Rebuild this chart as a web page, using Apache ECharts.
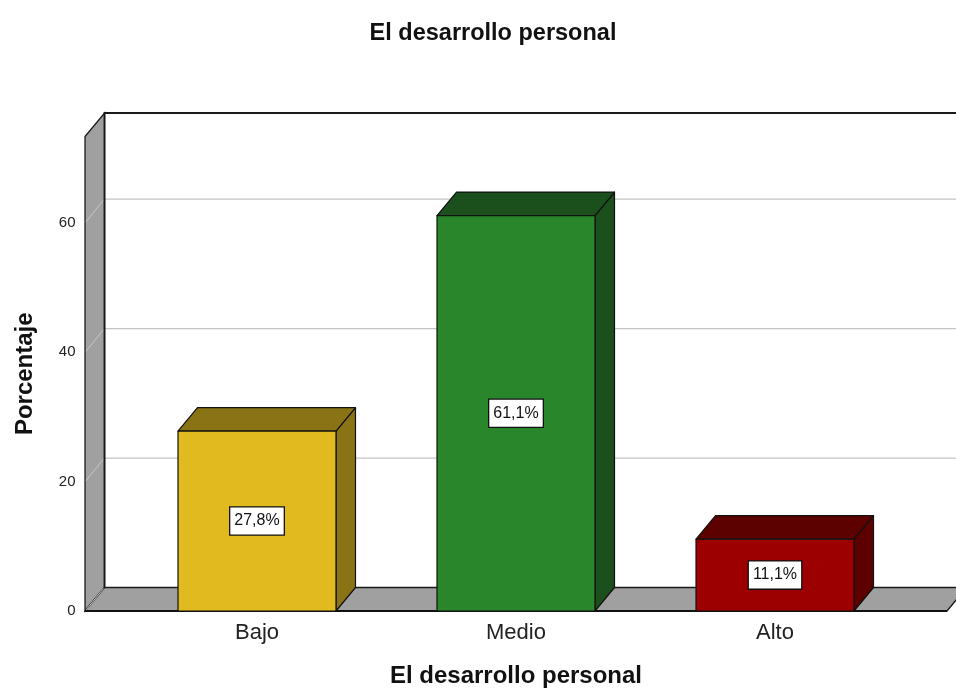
<!DOCTYPE html>
<html><head><meta charset="utf-8">
<script src="https://cdn.jsdelivr.net/npm/echarts@6/dist/echarts.min.js"></script>
<style>html,body{margin:0;padding:0;background:#fff;overflow:hidden}#c{width:956px;height:693px}</style>
</head><body><div id="c"></div>
<script>
var categories = ['Bajo', 'Medio', 'Alto'];
var percentages = [27.8, 61.1, 11.1];
var yTicks = [0, 20, 40, 60];
var frontColors = ['#E0BA1F', '#2A862B', '#9C0000'];
var darkColors = ['#8A7315', '#1B4F1B', '#5C0000'];

var DX = 19.5, DY = -23.5;
var chart = echarts.init(document.getElementById('c'), null, {width: 956, height: 693});
var FONT = 'Liberation Sans, Arial, sans-serif';

function wallRender(params, api) {
  var cs = params.coordSys;
  var band = api.size([1, 0])[0];
  var ext = band * 0.164;
  var L = cs.x - ext, R = cs.x + cs.width + ext;
  var B = api.coord([0, 0])[1];
  var T = cs.y;
  var ch = [];
  ch.push({type: 'polygon', shape: {points: [[L + DX, T + DY], [R + DX, T + DY], [R + DX, B + DY], [L + DX, B + DY]]},
    style: {fill: '#fff', stroke: null}});
  yTicks.forEach(function (v) {
    var y = api.coord([0, v])[1];
    if (v > 0) ch.push({type: 'line', shape: {x1: L + DX, y1: y + DY, x2: R + DX, y2: y + DY},
      style: {stroke: '#c4c4c4', lineWidth: 1.2}});
  });
  ch.push({type: 'polygon', shape: {points: [[L, T], [L + DX, T + DY], [L + DX, B + DY], [L, B]]},
    style: {fill: '#a0a0a0', stroke: '#1a1a1a', lineWidth: 1.3}});
  ch.push({type: 'polygon', shape: {points: [[L, B], [L + DX, B + DY], [R + DX, B + DY], [R, B]]},
    style: {fill: '#a0a0a0', stroke: '#1a1a1a', lineWidth: 1.3}});
  ch.push({type: 'line', shape: {x1: L, y1: B, x2: R, y2: B}, style: {stroke: '#111', lineWidth: 2}});
  yTicks.forEach(function (v) {
    var y = api.coord([0, v])[1];
    ch.push({type: 'line', shape: {x1: L + 1, y1: y - 1, x2: L + DX - 1, y2: y + DY + 1},
      style: {stroke: '#c8c8c8', lineWidth: 1}});
  });
  ch.push({type: 'polyline', shape: {points: [[L + DX, B + DY], [L + DX, T + DY], [R + DX + 20, T + DY]]},
    style: {stroke: '#1a1a1a', lineWidth: 1.8, fill: null}});
  return {type: 'group', children: ch};
}

function barRender(params, api) {
  var i = api.value(0), v = api.value(1);
  var c = api.coord([i, v]), c0 = api.coord([i, 0]);
  var w = api.size([1, 0])[0] * 0.61;
  var x0 = c[0] - w / 2, x1 = c[0] + w / 2, yt = c[1], yb = c0[1];
  var st = {stroke: '#111', lineWidth: 1.2, lineJoin: 'round'};
  var lbl = v.toFixed(1).replace('.', ',') + '%';
  return {type: 'group', children: [
    {type: 'polygon', shape: {points: [[x1, yt], [x1 + DX, yt + DY], [x1 + DX, yb + DY], [x1, yb]]},
      style: Object.assign({fill: darkColors[i]}, st)},
    {type: 'polygon', shape: {points: [[x0, yt], [x0 + DX, yt + DY], [x1 + DX, yt + DY], [x1, yt]]},
      style: Object.assign({fill: darkColors[i]}, st)},
    {type: 'rect', shape: {x: x0, y: yt, width: w, height: yb - yt},
      style: Object.assign({fill: frontColors[i]}, st)},
    {type: 'text', x: c[0], y: (yt + yb) / 2,
      style: {text: lbl, fill: '#111', font: '16px ' + FONT, align: 'center', verticalAlign: 'middle',
        backgroundColor: '#fff', borderColor: '#111', borderWidth: 1.3, padding: [6, 4, 5, 4]}}
  ]};
}

chart.setOption({
  animation: false,
  title: {text: 'El desarrollo personal', left: 488, top: 17, textAlign: 'center',
    textStyle: {fontFamily: FONT, fontSize: 23.5, fontWeight: 'bold', color: '#111'}},
  grid: {left: 127.5, width: 777, top: 136.5, height: 474.5},
  xAxis: {type: 'category', data: categories, boundaryGap: true,
    axisLine: {show: false}, axisTick: {show: false},
    axisLabel: {margin: 11, fontSize: 22, fontFamily: FONT, color: '#222'},
    name: 'El desarrollo personal', nameLocation: 'middle', nameGap: 53,
    nameTextStyle: {fontFamily: FONT, fontSize: 24, fontWeight: 'bold', color: '#111'}},
  yAxis: {type: 'value', min: 0, max: 73.32, interval: 20,
    axisLine: {show: false}, axisTick: {show: false}, splitLine: {show: false},
    axisLabel: {margin: 52, fontSize: 15, fontFamily: FONT, color: '#222', showMaxLabel: false},
    name: 'Porcentaje', nameLocation: 'middle', nameGap: 90,
    nameTextStyle: {fontFamily: FONT, fontSize: 24, fontWeight: 'bold', color: '#111'}},
  series: [
    {type: 'custom', renderItem: wallRender, data: [[0, 0]], z: 1, silent: true},
    {type: 'custom', renderItem: barRender, z: 2,
      data: percentages.map(function (p, i) { return [i, p]; })}
  ]
});
</script></body></html>
